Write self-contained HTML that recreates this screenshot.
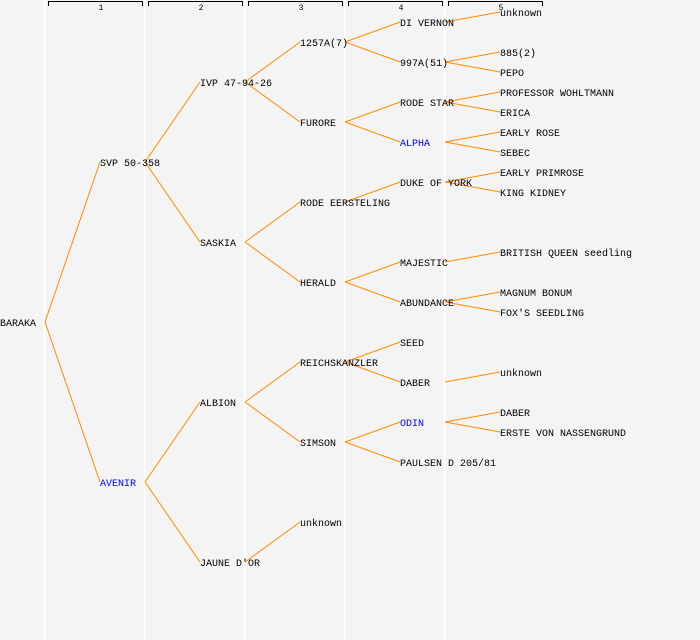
<!DOCTYPE html>
<html><head><meta charset="utf-8"><style>
html,body{margin:0;padding:0;background:#f4f4f4;}
svg{display:block;}
text{font-family:"Liberation Mono","DejaVu Sans Mono",monospace;font-size:10px;fill:#000;}
.b{fill:#0000ff;}
.h{font-size:8px;}
</style></head><body>
<svg width="700" height="640" xmlns="http://www.w3.org/2000/svg">
<rect width="700" height="640" fill="#f4f4f4"/>
<g stroke="#ffffff" stroke-width="1.5">
<line x1="44.5" y1="0" x2="44.5" y2="640"/><line x1="144.5" y1="0" x2="144.5" y2="640"/><line x1="244.5" y1="0" x2="244.5" y2="640"/><line x1="344.5" y1="0" x2="344.5" y2="640"/><line x1="444.5" y1="0" x2="444.5" y2="640"/>
</g>
<g stroke="#000" stroke-width="1" fill="none">
<path d="M48.5,6V1.5H142.5V6"/><path d="M148.5,6V1.5H242.5V6"/><path d="M248.5,6V1.5H342.5V6"/><path d="M348.5,6V1.5H442.5V6"/><path d="M448.5,6V1.5H542.5V6"/>
</g>
<g text-anchor="middle">
<text class="h" x="101" y="10">1</text><text class="h" x="201" y="10">2</text><text class="h" x="301" y="10">3</text><text class="h" x="401" y="10">4</text><text class="h" x="501" y="10">5</text>
</g>
<g stroke="#ff8c00" stroke-width="1" fill="none">
<line x1="45" y1="322" x2="100" y2="162"/><line x1="45" y1="322" x2="100" y2="482"/>
<line x1="145" y1="162" x2="200" y2="82"/><line x1="145" y1="162" x2="200" y2="242"/>
<line x1="145" y1="482" x2="200" y2="402"/><line x1="145" y1="482" x2="200" y2="562"/>
<line x1="245" y1="82" x2="300" y2="42"/><line x1="245" y1="82" x2="300" y2="122"/>
<line x1="245" y1="242" x2="300" y2="202"/><line x1="245" y1="242" x2="300" y2="282"/>
<line x1="245" y1="402" x2="300" y2="362"/><line x1="245" y1="402" x2="300" y2="442"/>
<line x1="245" y1="562" x2="300" y2="522"/>
<line x1="345" y1="42" x2="400" y2="22"/><line x1="345" y1="42" x2="400" y2="62"/>
<line x1="345" y1="122" x2="400" y2="102"/><line x1="345" y1="122" x2="400" y2="142"/>
<line x1="345" y1="202" x2="400" y2="182"/>
<line x1="345" y1="282" x2="400" y2="262"/><line x1="345" y1="282" x2="400" y2="302"/>
<line x1="345" y1="362" x2="400" y2="342"/><line x1="345" y1="362" x2="400" y2="382"/>
<line x1="345" y1="442" x2="400" y2="422"/><line x1="345" y1="442" x2="400" y2="462"/>
<line x1="445" y1="22" x2="500" y2="12"/>
<line x1="445" y1="62" x2="500" y2="52"/><line x1="445" y1="62" x2="500" y2="72"/>
<line x1="445" y1="102" x2="500" y2="92"/><line x1="445" y1="102" x2="500" y2="112"/>
<line x1="445" y1="142" x2="500" y2="132"/><line x1="445" y1="142" x2="500" y2="152"/>
<line x1="445" y1="182" x2="500" y2="172"/><line x1="445" y1="182" x2="500" y2="192"/>
<line x1="445" y1="262" x2="500" y2="252"/>
<line x1="445" y1="302" x2="500" y2="292"/><line x1="445" y1="302" x2="500" y2="312"/>
<line x1="445" y1="382" x2="500" y2="372"/>
<line x1="445" y1="422" x2="500" y2="412"/><line x1="445" y1="422" x2="500" y2="432"/>
</g>
<g>
<text x="0" y="326">BARAKA</text>
<text x="100" y="166">SVP 50-358</text>
<text x="100" y="486" class="b">AVENIR</text>
<text x="200" y="86">IVP 47-94-26</text>
<text x="200" y="246">SASKIA</text>
<text x="200" y="406">ALBION</text>
<text x="200" y="566">JAUNE D'OR</text>
<text x="300" y="46">1257A(7)</text>
<text x="300" y="126">FURORE</text>
<text x="300" y="206">RODE EERSTELING</text>
<text x="300" y="286">HERALD</text>
<text x="300" y="366">REICHSKANZLER</text>
<text x="300" y="446">SIMSON</text>
<text x="300" y="526">unknown</text>
<text x="400" y="26">DI VERNON</text>
<text x="400" y="66">997A(51)</text>
<text x="400" y="106">RODE STAR</text>
<text x="400" y="146" class="b">ALPHA</text>
<text x="400" y="186">DUKE OF YORK</text>
<text x="400" y="266">MAJESTIC</text>
<text x="400" y="306">ABUNDANCE</text>
<text x="400" y="346">SEED</text>
<text x="400" y="386">DABER</text>
<text x="400" y="426" class="b">ODIN</text>
<text x="400" y="466">PAULSEN D 205/81</text>
<text x="500" y="16">unknown</text>
<text x="500" y="56">885(2)</text>
<text x="500" y="76">PEPO</text>
<text x="500" y="96">PROFESSOR WOHLTMANN</text>
<text x="500" y="116">ERICA</text>
<text x="500" y="136">EARLY ROSE</text>
<text x="500" y="156">SEBEC</text>
<text x="500" y="176">EARLY PRIMROSE</text>
<text x="500" y="196">KING KIDNEY</text>
<text x="500" y="256">BRITISH QUEEN seedling</text>
<text x="500" y="296">MAGNUM BONUM</text>
<text x="500" y="316">FOX'S SEEDLING</text>
<text x="500" y="376">unknown</text>
<text x="500" y="416">DABER</text>
<text x="500" y="436">ERSTE VON NASSENGRUND</text>
</g>
</svg>
</body></html>
